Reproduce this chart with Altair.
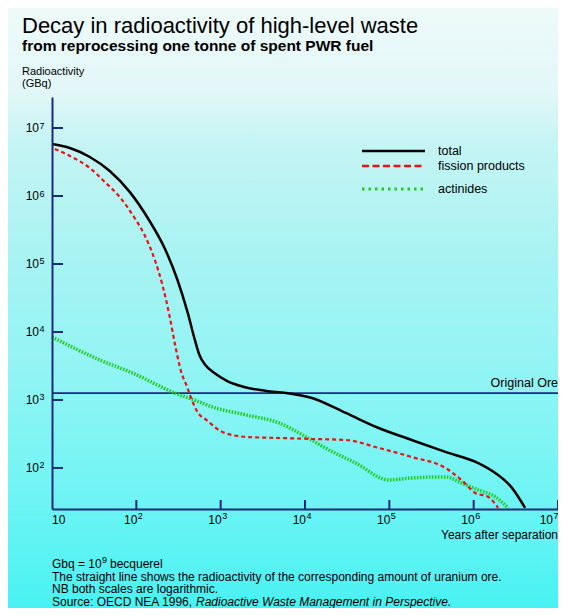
import altair as alt
import pandas as pd

# ---------------- data ----------------
total_years = [10, 16.3, 28.1, 48.4, 83.4, 143.6, 216, 307.6, 404, 502, 560, 659, 842, 1199,
               1902, 3460, 5960, 12100, 30500, 74800, 183600, 462000, 1135000, 1803000,
               2786000, 4074000]
total_gbq = [5.82e6, 5.08e6, 3.75e6, 2.33e6, 1.15e6, 4.29e5, 1.72e5, 5.82e4, 1.97e4, 7130,
             4590, 3270, 2490, 1900, 1553, 1360, 1270, 1070, 644, 387, 258, 172, 118, 84.4,
             52.6, 25.8]

fission_years = [10.8, 16.3, 28.1, 42.3, 63.5, 95.5, 125, 164, 204, 248, 291, 340, 395, 440,
                 530, 677, 1047, 2010, 4930, 12100, 30500, 74800, 183600, 462000, 714000,
                 1045000, 1489000, 1954000]
fission_gbq = [4.91e6, 3.88e6, 2.58e6, 1.61e6, 9.66e5, 4.75e5, 2.67e5, 1.19e5, 4.9e4, 1.7e4,
               6100, 2600, 1620, 1120, 666, 508, 338, 286, 276, 267, 258, 197, 145, 100, 66.7,
               42.9, 37.5, 25.8]

actinide_years = [10, 36.9, 90.5, 268, 560, 798, 2010, 4930, 10280, 19200, 40000, 98200,
                  183600, 462000, 714000, 1135000, 1803000, 2566000]
actinide_gbq = [8440, 3870, 2490, 1310, 935, 789, 602, 459, 286, 184, 118, 66.7, 71.3, 73.8,
                60.2, 47.5, 37.5, 25.8]

original_ore = [1260]

tick_values = [1e2, 1e3, 1e4, 1e5, 1e6, 1e7]
tick_exponents = ["2", "3", "4", "5", "6", "7"]

legend_names = ["total", "fission products", "actinides"]

title_text = "Decay in radioactivity of high-level waste"
subtitle_text = "from reprocessing one tonne of spent PWR fuel"
ytitle_lines = ["Radioactivity", "(GBq)"]
xtitle_text = "Years after separation"
ore_text = "Original Ore"
foot_lines = ["Gbq = 10", "9", "becquerel",
              "The straight line shows the radioactivity of the corresponding amount of uranium ore.",
              "NB both scales are logarithmic."]
source_plain = "Source: OECD NEA 1996, "
source_italic = "Radioactive Waste Management in Perspective."

# ---------------- styling ----------------
W, H = 506, 412
PAD = {"left": 44, "top": 89, "right": 0, "bottom": 99}
NAVY = "#1f2a78"
FONT = "Liberation Sans"
RED = "#ee1111"
GREEN = "#22cc22"

xs = alt.Scale(type="log", domain=[10, 1e7], nice=False)
ys = alt.Scale(type="log", domain=[24.9, 2.86e7], nice=False)

x_axis = alt.Axis(values=[10], labels=False, ticks=False, grid=False, domainColor=NAVY,
                  domainWidth=2, title=None, zindex=1)
y_axis = alt.Axis(values=[100], labels=False, ticks=False, grid=False, domainColor=NAVY,
                  domainWidth=2, title=None, zindex=1)


def X(field):
    return alt.X(field, type="quantitative", scale=xs, axis=x_axis)


def Y(field):
    return alt.Y(field, type="quantitative", scale=ys, axis=y_axis)


one = pd.DataFrame({"a": [0]})

bg = alt.Chart(one).mark_rect(
    color=alt.Gradient(
        gradient="linear",
        stops=[alt.GradientStop(color="#eefafa", offset=0),
               alt.GradientStop(color="#e2f7f7", offset=0.14),
               alt.GradientStop(color="#c6f4f4", offset=0.22),
               alt.GradientStop(color="#a8f3f3", offset=0.42),
               alt.GradientStop(color="#90f4f4", offset=0.62),
               alt.GradientStop(color="#72f4f4", offset=0.8),
               alt.GradientStop(color="#48f2f2", offset=1)],
        x1=0, x2=0, y1=0, y2=1)
).encode(x=alt.value(-PAD["left"]), x2=alt.value(W + PAD["right"]),
         y=alt.value(-PAD["top"]), y2=alt.value(H + PAD["bottom"]))

ticks_df = pd.DataFrame({"v": tick_values, "e": tick_exponents})

ytick = alt.Chart(ticks_df).mark_rule(color=NAVY, strokeWidth=2).encode(
    y=Y("v"), x=alt.value(0), x2=alt.value(11))
xtick = alt.Chart(ticks_df).mark_rule(color=NAVY, strokeWidth=2).encode(
    x=X("v"), y=alt.value(H), y2=alt.value(H - 9))

LBL = dict(font=FONT, color="black")
ylab10 = alt.Chart(ticks_df).mark_text(align="right", baseline="alphabetic", fontSize=12,
                                       dy=4.3, **LBL).encode(
    y=Y("v"), x=alt.value(-13), text=alt.value("10"))
ylabE = alt.Chart(ticks_df).mark_text(align="left", baseline="alphabetic", fontSize=9,
                                      dy=0.5, **LBL).encode(
    y=Y("v"), x=alt.value(-12.5), text="e:N")

xlab_first = alt.Chart(one).mark_text(align="left", baseline="alphabetic", fontSize=12,
                                      **LBL).encode(
    x=alt.value(0), y=alt.value(H + 14.5), text=alt.value("10"))
xlab10 = alt.Chart(ticks_df).transform_filter("datum.v < 5e6").mark_text(
    align="right", baseline="alphabetic", fontSize=12, dx=1, **LBL).encode(
    x=X("v"), y=alt.value(H + 14.5), text=alt.value("10"))
xlabE = alt.Chart(ticks_df).transform_filter("datum.v < 5e6").mark_text(
    align="left", baseline="alphabetic", fontSize=9, dx=1.5, **LBL).encode(
    x=X("v"), y=alt.value(H + 10), text="e:N")
xlab10_last = alt.Chart(ticks_df).transform_filter("datum.v > 5e6").mark_text(
    align="right", baseline="alphabetic", fontSize=12, dx=-5, **LBL).encode(
    x=X("v"), y=alt.value(H + 14.5), text=alt.value("10"))
xlabE_last = alt.Chart(ticks_df).transform_filter("datum.v > 5e6").mark_text(
    align="left", baseline="alphabetic", fontSize=9, dx=-4.5, **LBL).encode(
    x=X("v"), y=alt.value(H + 10), text="e:N")

ore = alt.Chart(pd.DataFrame({"v": original_ore})).mark_rule(
    color=NAVY, strokeWidth=1.6).encode(y=Y("v"), x=alt.value(0), x2=alt.value(W))

df_tot = pd.DataFrame({"year": total_years, "gbq": total_gbq})
df_fis = pd.DataFrame({"year": fission_years, "gbq": fission_gbq})
df_act = pd.DataFrame({"year": actinide_years, "gbq": actinide_gbq})

act = alt.Chart(df_act).mark_line(color=GREEN, strokeWidth=3.5, strokeDash=[1.6, 1.4],
                                  interpolate="monotone").encode(x=X("year"), y=Y("gbq"))
fis = alt.Chart(df_fis).mark_line(color=RED, strokeWidth=2.2, strokeDash=[4, 3],
                                  interpolate="monotone").encode(x=X("year"), y=Y("gbq"))
tot = alt.Chart(df_tot).mark_line(color="black", strokeWidth=2.5,
                                  interpolate="monotone").encode(x=X("year"), y=Y("gbq"))


def txt(s, x, y, size=12, weight="normal", align="left", style="normal",
        baseline="alphabetic"):
    return alt.Chart(pd.DataFrame({"t": [s]})).mark_text(
        align=align, baseline=baseline, fontSize=size, fontWeight=weight, fontStyle=style,
        font=FONT, color="black").encode(text="t:N", x=alt.value(x), y=alt.value(y))


# legend (manual)
leg_y = [54, 69, 92]
leg_styles = [dict(color="black", strokeWidth=2.5),
              dict(color=RED, strokeWidth=2.5, strokeDash=[7, 3.5]),
              dict(color=GREEN, strokeWidth=3, strokeDash=[2.5, 4])]
legend_layers = []
for name, yy, st in zip(legend_names, leg_y, leg_styles):
    legend_layers.append(alt.Chart(one).mark_rule(**st).encode(
        x=alt.value(310), x2=alt.value(373), y=alt.value(yy)))
    legend_layers.append(txt(name, 386, yy, size=12.5, baseline="middle"))

texts = [
    txt(title_text, -30, -64, size=22),
    txt(subtitle_text, -30, -46, size=15.5, weight="bold"),
    txt(ytitle_lines[0], -30, -22, size=11),
    txt(ytitle_lines[1], -30, -10, size=11),
    txt(xtitle_text, W, 442, size=12, align="right"),
    txt(ore_text, W, 290, size=12.5, align="right"),
    txt(foot_lines[0], 0, 471, size=12),
    txt(foot_lines[1], 50, 466, size=9),
    txt(foot_lines[2], 58, 471, size=12),
    txt(foot_lines[3], 0, 483.5, size=12),
    txt(foot_lines[4], 0, 496, size=12),
    txt(source_plain, 0, 508.5, size=12),
    txt(source_italic, 144, 508.5, size=12, style="italic"),
]

chart = alt.layer(bg, ore, act, fis, tot, ytick, xtick, ylab10, ylabE, xlab_first, xlab10,
                  xlabE, xlab10_last, xlabE_last, *legend_layers, *texts).properties(
    width=W, height=H, autosize=alt.AutoSizeParams(type="none"), padding=PAD,
    background="white"
).configure_view(stroke=None)

chart.save("out.html", embed_options={"renderer": "svg", "actions": False})
